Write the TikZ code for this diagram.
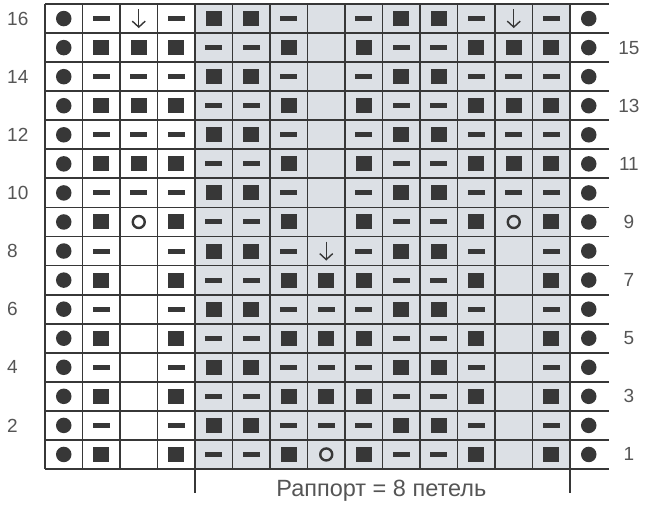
\documentclass[tikz,border=0pt]{standalone}
\usepackage{fontspec}
\setmainfont{Liberation Sans}
\usetikzlibrary{arrows.meta}
\definecolor{ink}{RGB}{55,55,55}
\definecolor{lbl}{RGB}{85,85,85}
\definecolor{rapp}{RGB}{220,224,229}
\tikzset{
	grid/.style={draw=ink, line width=1.8pt},
	sym/.style={inner sep=0pt, outer sep=0pt},
	sq/.style={sym, fill=ink, minimum width=16pt, minimum height=15pt},
	ds/.style={sym, fill=ink, minimum width=17pt, minimum height=5pt},
	dt/.style={sym, circle, fill=ink, minimum size=15.5pt},
	yo/.style={sym, circle, draw=ink, line width=2.4pt, minimum size=12pt},
	ar/.style={sym, minimum width=13pt, minimum height=19pt,
		append after command={(\tikzlastnode.north) edge[draw=ink, line width=1.4pt, -{Straight Barb[length=6pt,width=13pt]}] (\tikzlastnode.south)}},
	no/.style={sym},
	rownum/.style={text=lbl, font=\fontsize{19}{19}\selectfont, inner sep=0pt},
}
\begin{document}
\begin{tikzpicture}[x=37.5pt, y=29.06pt]
	\useasboundingbox (-1.2,-1.3076) rectangle (16.0267,16.139);
	
	\fill[rapp] (4,0) rectangle (14,16);
	\foreach \y in {0,...,16} \draw[grid] (0,\y) -- (15.05,\y);
	\foreach \x in {0,...,14} \draw[grid] (\x,0) -- (\x,16);
	\draw[grid] (4,0) -- (4,-0.83);
	\draw[grid] (14,0) -- (14,-0.83);
	
	\foreach \r/\cells in {
		16/{dt,ds,ar,ds,sq,sq,ds,no,ds,sq,sq,ds,ar,ds,dt},
		15/{dt,sq,sq,sq,ds,ds,sq,no,sq,ds,ds,sq,sq,sq,dt},
		14/{dt,ds,ds,ds,sq,sq,ds,no,ds,sq,sq,ds,ds,ds,dt},
		13/{dt,sq,sq,sq,ds,ds,sq,no,sq,ds,ds,sq,sq,sq,dt},
		12/{dt,ds,ds,ds,sq,sq,ds,no,ds,sq,sq,ds,ds,ds,dt},
		11/{dt,sq,sq,sq,ds,ds,sq,no,sq,ds,ds,sq,sq,sq,dt},
		10/{dt,ds,ds,ds,sq,sq,ds,no,ds,sq,sq,ds,ds,ds,dt},
		9/{dt,sq,yo,sq,ds,ds,sq,no,sq,ds,ds,sq,yo,sq,dt},
		8/{dt,ds,no,ds,sq,sq,ds,ar,ds,sq,sq,ds,no,ds,dt},
		7/{dt,sq,no,sq,ds,ds,sq,sq,sq,ds,ds,sq,no,sq,dt},
		6/{dt,ds,no,ds,sq,sq,ds,ds,ds,sq,sq,ds,no,ds,dt},
		5/{dt,sq,no,sq,ds,ds,sq,sq,sq,ds,ds,sq,no,sq,dt},
		4/{dt,ds,no,ds,sq,sq,ds,ds,ds,sq,sq,ds,no,ds,dt},
		3/{dt,sq,no,sq,ds,ds,sq,sq,sq,ds,ds,sq,no,sq,dt},
		2/{dt,ds,no,ds,sq,sq,ds,ds,ds,sq,sq,ds,no,ds,dt},
		1/{dt,sq,no,sq,ds,ds,sq,yo,sq,ds,ds,sq,no,sq,dt}}
		\foreach \s [count=\c] in \cells
			\node[\s] (s-\r-\c) at (\c-0.5,\r-0.5) {};
	
	\foreach \r in {2,4,...,16}
		\node[rownum, anchor=west] (l-\r) at (-1.013,\r-0.5) {\r};
	\foreach \r in {1,3,...,15}
		\node[rownum] (l-\r) at (15.57,\r-0.5) {\r};
	
	\node[text=lbl, font=\fontsize{23.5}{24}\selectfont, anchor=base, inner sep=0pt] (rapport) at (8.97,-0.93) {Раппорт = 8 петель};
\end{tikzpicture}
\end{document}
